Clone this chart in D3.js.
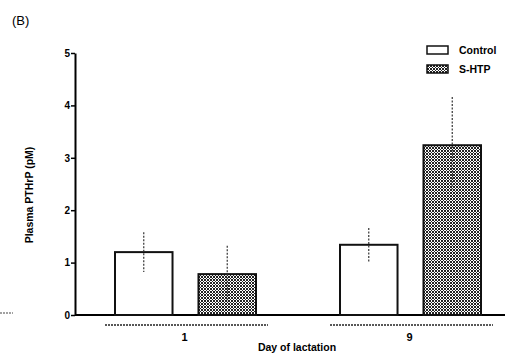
<!DOCTYPE html>
<html>
<head>
<meta charset="utf-8">
<script src="https://cdn.jsdelivr.net/npm/d3@7"></script>
<style>
  body { margin: 0; background: #fff; }
  svg { font-family: "Liberation Sans", Arial, sans-serif; }
</style>
</head>
<body>
<div id="chart"></div>
<script>
const days = ["1", "9"];
const groups = ["Control", "S-HTP"];
const meanValues = [[1.2, 0.78], [1.34, 3.24]];
const errUpper = [[1.58, 1.32], [1.66, 4.16]];
const errLower = [[0.82, 0.25], [0.99, 2.4]];
const yTicks = [0, 1, 2, 3, 4, 5];

const width = 509, height = 353;
const marginLeft = 75, marginTop = 53, plotRight = 505, baseY = 315;

const svg = d3.select("#chart").append("svg")
    .attr("width", width)
    .attr("height", height);

// checker pattern for the S-HTP bars
const defs = svg.append("defs");
const pat = defs.append("pattern")
    .attr("id", "checker")
    .attr("width", 3).attr("height", 3)
    .attr("patternUnits", "userSpaceOnUse");
pat.append("rect").attr("width", 3).attr("height", 3).attr("fill", "#fff");
pat.append("rect").attr("width", 2).attr("height", 2).attr("fill", "#222");
pat.append("rect").attr("x", 2).attr("y", 2).attr("width", 1).attr("height", 1).attr("fill", "#222");

const y = d3.scaleLinear()
    .domain([0, 5])
    .range([baseY, marginTop]);

const x0 = d3.scaleBand()
    .domain(days)
    .range([105, 493])
    .paddingInner(0.2756)
    .paddingOuter(0);

const x1 = d3.scaleBand()
    .domain(groups)
    .range([10, 151])
    .paddingInner(0.311)
    .paddingOuter(0);

// panel letter
svg.append("text")
    .attr("x", 12).attr("y", 25)
    .attr("font-size", 13)
    .text("(B)");

// y axis
const yAxis = svg.append("g")
    .attr("transform", `translate(${marginLeft},0)`)
    .call(d3.axisLeft(y).tickValues(yTicks).tickSize(4).tickSizeOuter(0).tickFormat(d3.format("d")));
yAxis.select(".domain").attr("stroke-width", 2);
yAxis.selectAll(".tick line").attr("stroke-width", 1.5);
yAxis.selectAll(".tick text")
    .attr("x", -5)
    .attr("font-size", 10)
    .attr("font-weight", "bold")
    .attr("font-family", "Liberation Sans, Arial, sans-serif");

// baseline
svg.append("line")
    .attr("x1", marginLeft).attr("x2", plotRight)
    .attr("y1", y(0)).attr("y2", y(0))
    .attr("stroke", "#000").attr("stroke-width", 2);

// bars
const dayG = svg.selectAll(".day")
    .data(days)
    .join("g")
    .attr("class", "day")
    .attr("transform", d => `translate(${x0(d)},0)`);

dayG.each(function(day, i) {
    const g = d3.select(this);
    groups.forEach((grp, j) => {
        const v = meanValues[i][j];
        g.append("rect")
            .attr("x", x1(grp))
            .attr("y", y(v))
            .attr("width", x1.bandwidth())
            .attr("height", y(0) - y(v))
            .attr("fill", j === 0 ? "#fff" : "url(#checker)")
            .attr("stroke", "#111")
            .attr("stroke-width", 2);
        g.append("line")
            .attr("x1", x1(grp) + x1.bandwidth() / 2)
            .attr("x2", x1(grp) + x1.bandwidth() / 2)
            .attr("y1", y(errUpper[i][j]))
            .attr("y2", y(errLower[i][j]))
            .attr("stroke", "#333")
            .attr("stroke-width", 1.2)
            .attr("stroke-dasharray", "2,1.5");
    });

    // group underline
    g.append("line")
        .attr("x1", 0).attr("x2", x0.bandwidth())
        .attr("y1", y(0) + 10).attr("y2", y(0) + 10)
        .attr("stroke", "#222")
        .attr("stroke-width", 1.5)
        .attr("stroke-dasharray", "2,1");

    g.append("text")
        .attr("x", x0.bandwidth() / 2 - 2)
        .attr("y", y(0) + 26)
        .attr("text-anchor", "middle")
        .attr("font-size", 11)
        .attr("font-weight", "bold")
        .text(day);
});

// axis titles
svg.append("text")
    .attr("x", 297).attr("y", 351)
    .attr("text-anchor", "middle")
    .attr("font-size", 10.5)
    .attr("font-weight", "bold")
    .text("Day of lactation");

svg.append("text")
    .attr("transform", "translate(33,195) rotate(-90)")
    .attr("text-anchor", "middle")
    .attr("font-size", 10.5)
    .attr("font-weight", "bold")
    .text("Plasma PTHrP (pM)");

// legend
const legend = svg.append("g").attr("transform", "translate(427,46)");
groups.forEach((grp, j) => {
    const lg = legend.append("g").attr("transform", `translate(0,${j * 19})`);
    lg.append("rect")
        .attr("width", 21).attr("height", 8)
        .attr("fill", j === 0 ? "#fff" : "url(#checker)")
        .attr("stroke", "#111")
        .attr("stroke-width", 1.5);
    lg.append("text")
        .attr("x", 32).attr("y", 8)
        .attr("font-size", 10.5)
        .attr("font-weight", "bold")
        .text(grp);
});

// stray dashes from the neighbouring panel
svg.append("line")
    .attr("x1", 0).attr("x2", 13)
    .attr("y1", 313).attr("y2", 313)
    .attr("stroke", "#444").attr("stroke-width", 1.2)
    .attr("stroke-dasharray", "2,1");
</script>
</body>
</html>
